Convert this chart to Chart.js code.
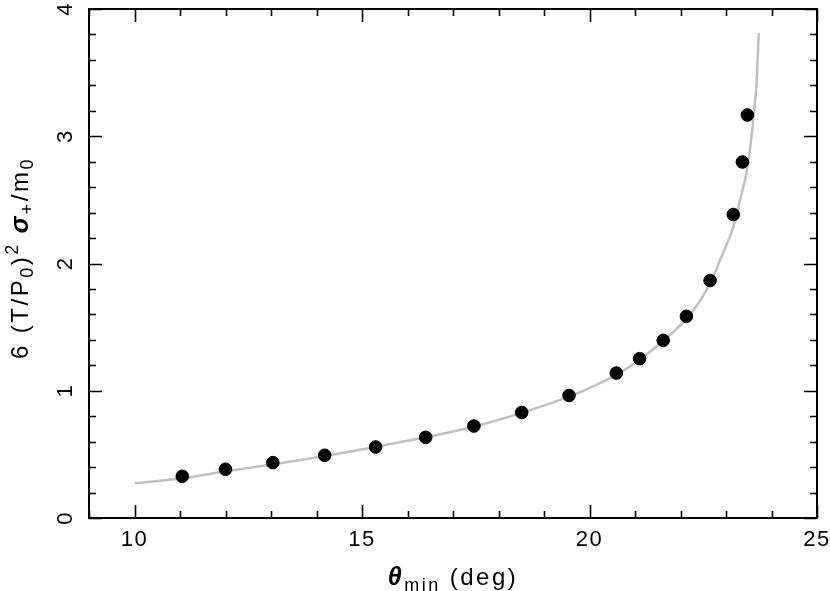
<!DOCTYPE html>
<html><head><meta charset="utf-8">
<script src="https://cdn.jsdelivr.net/npm/chart.js@4/dist/chart.umd.min.js"></script>
<style>html,body{margin:0;padding:0;background:#fff;}</style>
</head><body>
<canvas id="c" width="830" height="591"></canvas>
<script>
// Measured points: theta_min (deg) vs 6 (T/P0)^2 sigma_+/m0
const thetaMin = [11.05, 12.00, 13.04, 14.18, 15.30, 16.40, 17.46, 18.51, 19.55, 20.59, 21.10, 21.62, 22.13, 22.65, 23.16, 23.36, 23.47];
const sigmaScaled = [0.328, 0.383, 0.435, 0.493, 0.558, 0.634, 0.723, 0.829, 0.963, 1.139, 1.252, 1.396, 1.585, 1.866, 2.385, 2.798, 3.167];
// Grey model curve
const curveTheta = [10.0, 11.05, 12.0, 13.2, 15.4, 17.6, 19.65, 20.23, 20.82, 21.33, 21.77, 22.14, 22.45, 22.72, 22.87, 23.16, 23.31, 23.49, 23.61, 23.67, 23.72];
const curveSigma = [0.273, 0.312, 0.367, 0.430, 0.566, 0.731, 0.967, 1.059, 1.176, 1.307, 1.438, 1.569, 1.718, 1.896, 2.027, 2.289, 2.499, 2.796, 3.167, 3.416, 3.809];
// Axis ticks
const xMajorTicks = [10, 15, 20, 25];
const xMinorTicks = [9, 11, 12, 13, 14, 16, 17, 18, 19, 21, 22, 23, 24];
const yMajorTicks = [0, 1, 2, 3, 4];
const yMinorTicks = [0.2, 0.4, 0.6, 0.8, 1.2, 1.4, 1.6, 1.8, 2.2, 2.4, 2.6, 2.8, 3.2, 3.4, 3.6, 3.8];

const FONT = '"Liberation Sans", Arial, sans-serif';

function drawRich(ctx, parts, cx, cy, rot) {
  ctx.save();
  ctx.translate(cx, cy);
  ctx.rotate(rot);
  ctx.textBaseline = 'alphabetic';
  ctx.textAlign = 'left';
  let total = 0;
  for (const p of parts) { ctx.font = p.font; p.w = ctx.measureText(p.t).width; total += p.w + (p.gap || 0); }
  let x = -total / 2;
  for (const p of parts) {
    ctx.font = p.font;
    ctx.fillStyle = '#000';
    ctx.fillText(p.t, x, (p.dy || 0));
    x += p.w + (p.gap || 0);
  }
  ctx.restore();
}

const framePlugin = {
  id: 'frame',
  beforeDraw(chart) { chart.ctx.letterSpacing = '1.5px'; },
  afterDraw(chart) {
    const ctx = chart.ctx;
    const a = chart.chartArea;
    const xs = chart.scales.x, ys = chart.scales.y;
    ctx.save();
    ctx.strokeStyle = '#000';
    ctx.lineWidth = 2;
    ctx.strokeRect(a.left, a.top, a.right - a.left, a.bottom - a.top);
    ctx.lineWidth = 1.6;
    const tickX = (v, len) => {
      const px = Math.round(xs.getPixelForValue(v)) + 0.5;
      ctx.beginPath();
      ctx.moveTo(px, a.bottom); ctx.lineTo(px, a.bottom - len);
      ctx.moveTo(px, a.top); ctx.lineTo(px, a.top + len);
      ctx.stroke();
    };
    const tickY = (v, len) => {
      const py = Math.round(ys.getPixelForValue(v)) + 0.5;
      ctx.beginPath();
      ctx.moveTo(a.left, py); ctx.lineTo(a.left + len, py);
      ctx.moveTo(a.right, py); ctx.lineTo(a.right - len, py);
      ctx.stroke();
    };
    xMajorTicks.forEach(v => tickX(v, 13));
    xMinorTicks.forEach(v => tickX(v, 7));
    yMajorTicks.forEach(v => tickY(v, 13));
    yMinorTicks.forEach(v => tickY(v, 7));
    ctx.restore();

    // y tick labels, rotated
    ctx.save();
    ctx.fillStyle = '#000';
    ctx.font = '22px ' + FONT;
    ctx.textAlign = 'center';
    ctx.textBaseline = 'alphabetic';
    yMajorTicks.forEach(v => {
      const py = ys.getPixelForValue(v);
      ctx.save();
      ctx.translate(72, py);
      ctx.rotate(-Math.PI / 2);
      ctx.fillText(String(v), 0, 0);
      ctx.restore();
    });
    ctx.restore();

    const big = '24px ' + FONT, small = '18px ' + FONT, bi = 'italic bold 25px ' + FONT;
    ctx.save();
    ctx.letterSpacing = '2.5px';
    // x title
    drawRich(ctx, [
      {t: 'θ', font: bi},
      {t: 'min', font: small, dy: 6, gap: 9},
      {t: '(deg)', font: big}
    ], (a.left + a.right) / 2, 585, 0);
    // y title
    drawRich(ctx, [
      {t: '6', font: big, gap: 10},
      {t: '(T/P', font: big},
      {t: '0', font: small, dy: 5},
      {t: ')', font: big},
      {t: '2', font: small, dy: -10, gap: 9},
      {t: 'σ', font: bi},
      {t: '+', font: small, dy: 5},
      {t: '/m', font: big},
      {t: '0', font: small, dy: 5}
    ], 28, 258, -Math.PI / 2);
    ctx.restore();
  }
};

new Chart(document.getElementById('c'), {
  type: 'scatter',
  data: {
    datasets: [
      {
        label: 'data',
        data: thetaMin.map((x, i) => ({x, y: sigmaScaled[i]})),
        backgroundColor: '#000',
        borderColor: '#000',
        pointRadius: 6.3,
        pointHoverRadius: 6.3,
        order: 0
      },
      {
        label: 'model',
        data: curveTheta.map((x, i) => ({x, y: curveSigma[i]})),
        showLine: true,
        borderColor: '#c0c0c0',
        borderWidth: 2.5,
        pointRadius: 0,
        cubicInterpolationMode: 'monotone',
        fill: false,
        order: 1
      }
    ]
  },
  options: {
    responsive: false,
    animation: false,
    devicePixelRatio: 1,
    layout: {padding: {top: 9, right: 13, left: 0, bottom: 0}},
    plugins: {legend: {display: false}, tooltip: {enabled: false}},
    scales: {
      x: {
        type: 'linear', min: 9, max: 25,
        grid: {display: false, drawTicks: false},
        border: {display: false},
        afterBuildTicks: s => { s.ticks = xMajorTicks.map(v => ({value: v})); },
        afterFit: s => { s.height = 73; s.paddingLeft = 0; s.paddingRight = 0; },
        ticks: {color: '#000', font: {family: FONT, size: 22}, padding: 9, maxRotation: 0, autoSkip: false}
      },
      y: {
        type: 'linear', min: 0, max: 4,
        grid: {display: false, drawTicks: false},
        border: {display: false},
        afterBuildTicks: s => { s.ticks = yMajorTicks.map(v => ({value: v})); },
        afterFit: s => { s.width = 89; s.paddingTop = 0; s.paddingBottom = 0; },
        ticks: {display: false}
      }
    }
  },
  plugins: [framePlugin]
});
</script>
</body></html>
